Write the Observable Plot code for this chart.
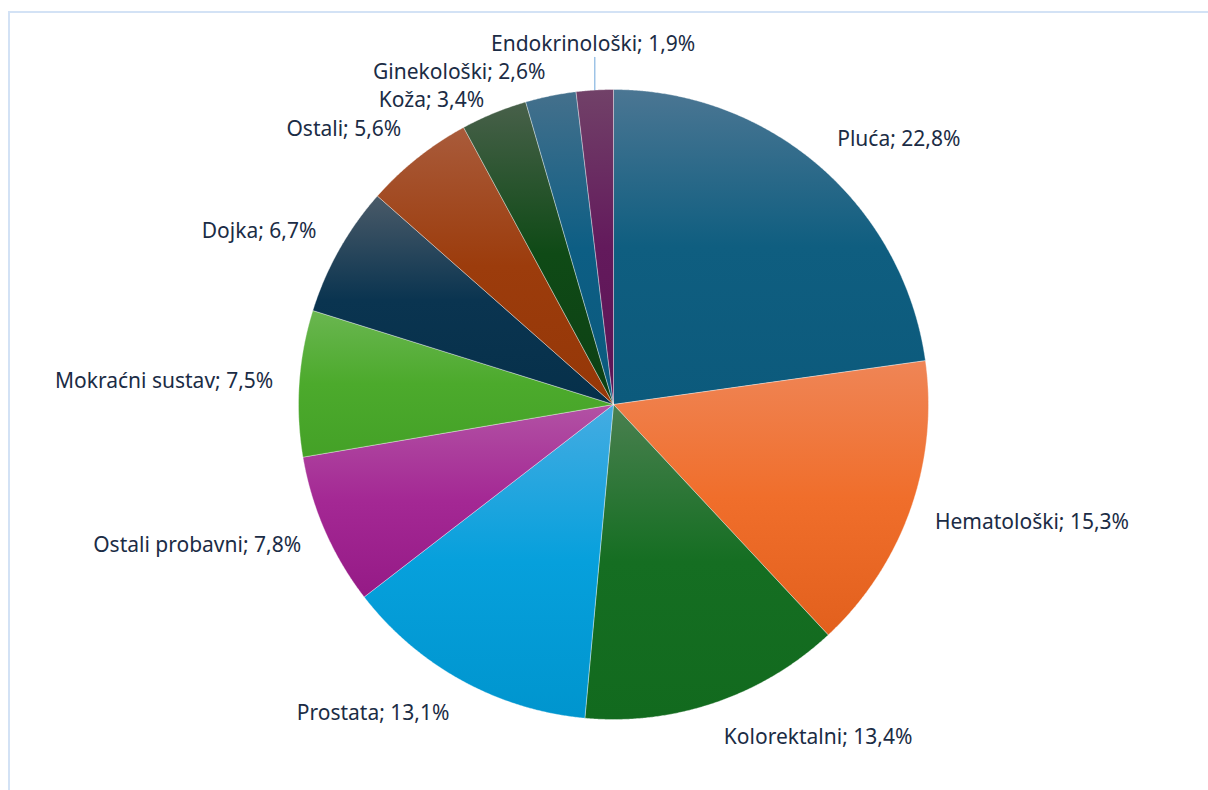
<!DOCTYPE html>
<html><head><meta charset="utf-8">
<script src="https://cdn.jsdelivr.net/npm/d3@7"></script>
<script src="https://cdn.jsdelivr.net/npm/@observablehq/plot@0.6"></script>
<style>
html,body{margin:0;padding:0;background:#fff;overflow:hidden;width:1208px;height:790px;}
#frame{position:absolute;left:8px;top:11px;width:1320px;height:900px;border:2px solid #d3e2f5;box-sizing:border-box;}
#chart{position:absolute;left:0;top:0;}
</style></head><body>
<div id="frame"></div><div id="chart"></div>
<script>
// ---- data ----
const categories = ["Pluća","Hematološki","Kolorektalni","Prostata","Ostali probavni","Mokraćni sustav","Dojka","Ostali","Koža","Ginekološki","Endokrinološki"];
const shares = [22.8, 15.3, 13.4, 13.1, 7.8, 7.5, 6.7, 5.6, 3.4, 2.6, 1.9];
const colorsTop = ["#4b7693","#ef8556","#4a8050","#45ace2","#b252a4","#6ab650","#4a5a68","#a95b3b","#48604a","#44708c","#714168"];
const colorsMid = ["#0f5e80","#f06e2b","#156e22","#06a0dc","#a42894","#4caa2c","#0a3450","#9c3c0c","#0f4a16","#0d5e84","#631a5c"];
const colorsBottom = ["#0c5a7c","#e2601d","#126a1e","#0095ce","#951a86","#44a127","#06304a","#953707","#0d4014","#0a5a7e","#5e1456"];

// ---- layout ----
const W = 1208, H = 790;
const cx = 613, cy = 404, R = 315;
const fontSize = 21, fontFamily = "'Noto Sans', sans-serif", textColor = "#1b2c45";
const labelGap = 26, boxH = 22, minSpacing = 28;

const total = d3.sum(shares);
let cum = 0;
const slices = shares.map((v, i) => {
  const a0 = cum / total * 2 * Math.PI; cum += v;
  const a1 = cum / total * 2 * Math.PI;
  return {i, name: categories[i], value: v, a0, a1, mid: (a0 + a1) / 2,
          label: `${categories[i]}; ${v.toFixed(1).replace(".", ",")}%`};
});

function slicePoints(s) {
  const pts = [{x: 0, y: 0}];
  const n = Math.max(2, Math.ceil((s.a1 - s.a0) / (Math.PI / 720)));
  for (let k = 0; k <= n; k++) {
    const a = s.a0 + (s.a1 - s.a0) * k / n;
    pts.push({x: Math.sin(a), y: Math.cos(a)});
  }
  pts.push({x: 0, y: 0});
  return pts;
}

// ---- label placement (pixel space, converted to data units) ----
const ctx = document.createElement("canvas").getContext("2d");
ctx.font = `${fontSize}px ${fontFamily}`;
const toUx = px => (px - cx) / R, toUy = py => (cy - py) / R;
const boxes = slices.map(s => {
  const sn = Math.sin(s.mid), cs = Math.cos(s.mid);
  const rl = R + labelGap;
  const Ax = cx + rl * sn, Ay = cy - rl * cs;
  const w = ctx.measureText(s.label).width;
  let anchor, left;
  if (Math.abs(sn) < 0.1) { anchor = "middle"; left = Ax - w / 2; }
  else if (sn > 0) { anchor = "start"; left = Ax; }
  else { anchor = "end"; left = Ax - w; }
  const top = Ay - boxH * (1 + cs) / 2;
  return {s, Ax, Ay, w, left, top, anchor};
});
for (let iter = 0; iter < 500; iter++) {
  let moved = false;
  for (let a = 0; a < boxes.length; a++) for (let b = a + 1; b < boxes.length; b++) {
    const A = boxes[a], B = boxes[b];
    if (A.left < B.left + B.w && B.left < A.left + A.w) {
      const [u, l] = A.top <= B.top ? [A, B] : [B, A];
      const need = u.top + minSpacing - l.top;
      if (need > 0.01) { u.top -= need * 0.3; l.top += need * 0.7; moved = true; }
    }
  }
  if (!moved) break;
}
const labels = boxes.map(b => {
  const px = b.anchor === "start" ? b.left : b.anchor === "end" ? b.left + b.w : b.left + b.w / 2;
  return {text: b.s.label, anchor: b.anchor, x: toUx(px), y: toUy(b.top + boxH / 2)};
});
const leaders = boxes.filter(b => b.Ay > b.top + boxH + 6 || b.Ay < b.top - 6).map(b => {
  const ex = cx + R * Math.sin(b.s.mid), ey = cy - R * Math.cos(b.s.mid);
  const lx = Math.min(Math.max(ex, b.left), b.left + b.w);
  const ly = b.Ay < b.top ? b.top - 2 : b.top + boxH + 2;
  return {x1: toUx(ex), y1: toUy(ey), x2: toUx(lx), y2: toUy(ly)};
});

// ---- gradient defs as a render-function mark ----
const defsMark = () => {
  const ns = "http://www.w3.org/2000/svg";
  const defs = document.createElementNS(ns, "defs");
  slices.forEach((s, i) => {
    const g = document.createElementNS(ns, "linearGradient");
    g.setAttribute("id", `sliceGrad${i}`);
    g.setAttribute("x1", "0"); g.setAttribute("y1", "0");
    g.setAttribute("x2", "0"); g.setAttribute("y2", "1");
    [[0, colorsTop[i]], [0.5, colorsMid[i]], [1, colorsBottom[i]]].forEach(([o, c]) => {
      const st = document.createElementNS(ns, "stop");
      st.setAttribute("offset", o); st.setAttribute("stop-color", c);
      g.appendChild(st);
    });
    defs.appendChild(g);
  });
  return defs;
};

const sliceMarks = slices.map((s, i) =>
  Plot.line(slicePoints(s), {x: "x", y: "y", fill: `url(#sliceGrad${i})`, stroke: "#ffffff", strokeWidth: 0.6, strokeOpacity: 0.6, curve: "linear"})
);
const textMarks = ["start", "middle", "end"].map(a =>
  Plot.text(labels.filter(d => d.anchor === a), {x: "x", y: "y", text: "text", textAnchor: a, lineAnchor: "middle",
    fontSize, fontFamily, fill: textColor})
);

const chart = Plot.plot({
  width: W, height: H, margin: 0,
  x: {domain: [-1, 1], range: [cx - R, cx + R], axis: null},
  y: {domain: [-1, 1], range: [cy + R, cy - R], axis: null},
  style: {background: "transparent", overflow: "visible"},
  marks: [
    defsMark,
    ...sliceMarks,
    Plot.link(leaders, {x1: "x1", y1: "y1", x2: "x2", y2: "y2", stroke: "#9dc3e6", strokeWidth: 1.5}),
    ...textMarks
  ]
});
document.getElementById("chart").appendChild(chart);
</script>
</body></html>
